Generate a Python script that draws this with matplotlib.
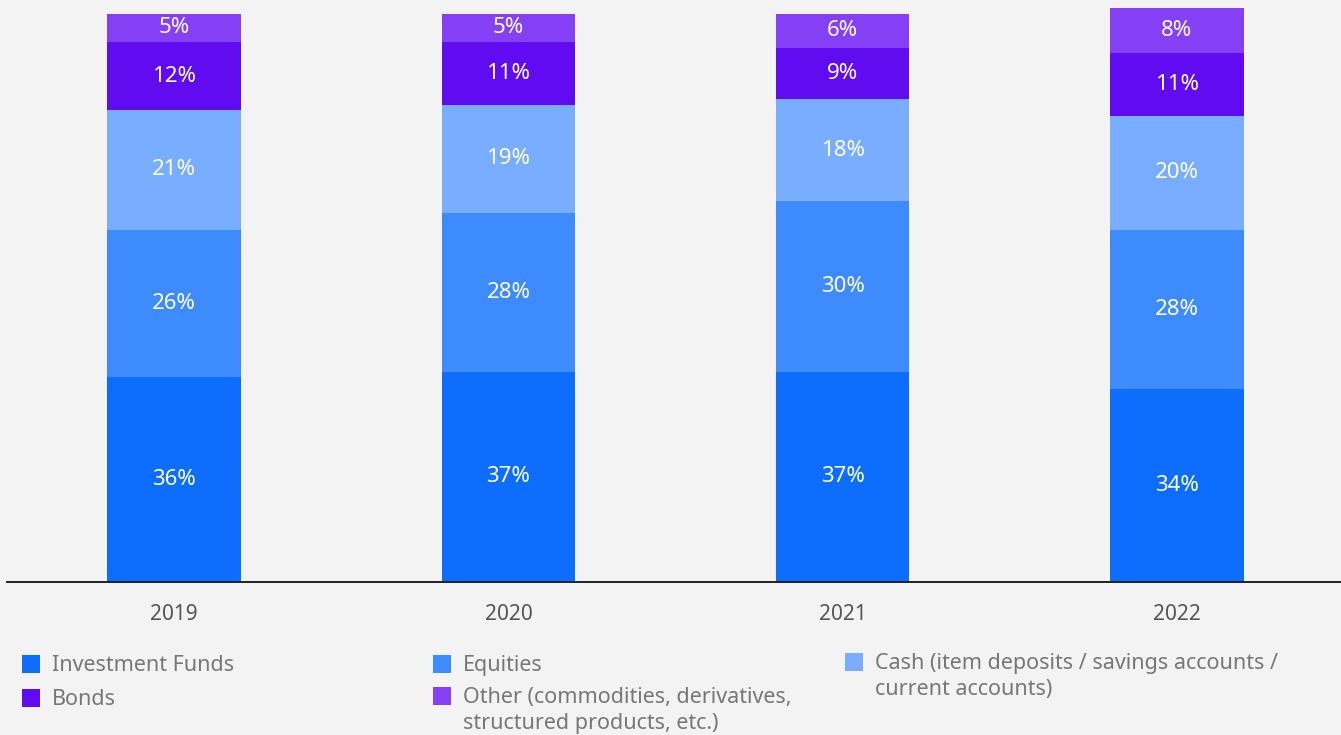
import matplotlib.pyplot as plt
from matplotlib.patches import Rectangle

# Portfolio composition by year (share of total, %)
years = ['2019', '2020', '2021', '2022']
investment_funds = [36, 37, 37, 34]
equities = [26, 28, 30, 28]
cash = [21, 19, 18, 20]
bonds = [12, 11, 9, 11]
other = [5, 5, 6, 8]

series = [
    ('Investment Funds', investment_funds, '#0d6efd'),
    ('Equities', equities, '#3d8bfd'),
    ('Cash (item deposits / savings accounts /\ncurrent accounts)', cash, '#79adff'),
    ('Bonds', bonds, '#610cf0'),
    ('Other (commodities, derivatives,\nstructured products, etc.)', other, '#8540f5'),
]

plt.rcParams['font.family'] = ['Noto Sans', 'DejaVu Sans']
bg = '#f3f3f3'
W, H = 1341, 735

fig = plt.figure(figsize=(W / 100, H / 100), dpi=100, facecolor=bg)
ax = fig.add_axes([7 / W, 153 / H, 1337 / W, 574 / H], facecolor=bg)

x = list(range(len(years)))
bottom = [0] * len(years)
for name, vals, color in series:
    ax.bar(x, vals, width=0.4, bottom=bottom, color=color, edgecolor='none')
    for xi, b, v in zip(x, bottom, vals):
        ax.text(xi, b + v / 2, f'{v}%', ha='center', va='center',
                color='white', fontsize=16)
    bottom = [b + v for b, v in zip(bottom, vals)]

ax.set_xlim(-0.5, 3.5)
ax.set_ylim(0, 101)
ax.set_xticks(x)
ax.set_xticklabels(years, fontsize=15, color='#555555')
ax.tick_params(axis='x', length=0, pad=16)
ax.set_yticks([])
for side in ['top', 'right', 'left']:
    ax.spines[side].set_visible(False)
ax.spines['bottom'].set_linewidth(1.4)
ax.spines['bottom'].set_color('#222222')

# Legend laid out by hand in three columns (pixel centre of first line)
legend_pos = {
    'Investment Funds': (22, 664),
    'Equities': (433, 664),
    'Cash (item deposits / savings accounts /\ncurrent accounts)': (845, 662),
    'Bonds': (22, 698),
    'Other (commodities, derivatives,\nstructured products, etc.)': (433, 696),
}
sq = 18
for name, vals, color in series:
    px, py = legend_pos[name]
    fig.patches.append(Rectangle((px / W, (H - py - sq / 2) / H), sq / W, sq / H,
                                 transform=fig.transFigure, facecolor=color,
                                 edgecolor='none'))
    fig.text((px + 30) / W, (H - py + 9) / H, name, ha='left', va='top',
             fontsize=15.5, color='#777777', linespacing=1.3,
             transform=fig.transFigure)

fig.savefig('out.png', dpi=100, facecolor=bg)
